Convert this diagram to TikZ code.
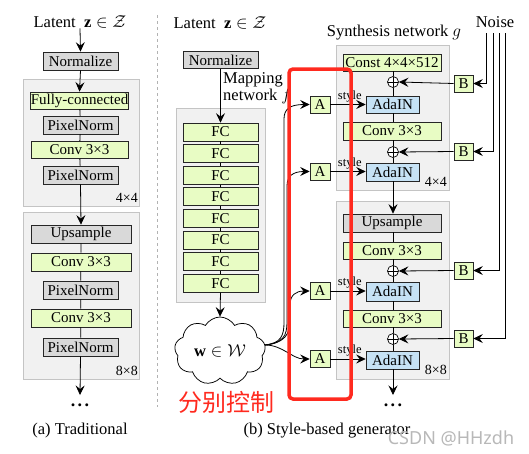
\documentclass[tikz,border=0pt]{standalone}
\usepackage{fontspec}
\setmainfont{Liberation Serif}
\newfontfamily\cjkfont{Noto Sans CJK SC}
\newfontfamily\wmfont{Noto Sans}
\usetikzlibrary{arrows.meta,shapes.symbols}
\definecolor{boxgreen}{HTML}{E8FCC4}
\definecolor{boxgray}{HTML}{D9D9D9}
\definecolor{boxblue}{HTML}{C6E2F5}
\definecolor{panelfill}{HTML}{F1F1F1}
\definecolor{panelline}{HTML}{C4C4C4}
\definecolor{redbox}{HTML}{FF2A1F}
\begin{document}
\begin{tikzpicture}[x=1pt,y=-1pt,
  every node/.style={font=\fontsize{15}{17}\selectfont, inner sep=0pt},
  blk/.style={draw=black!85, line width=0.7pt, rectangle, minimum height=18},
  gbox/.style={blk, fill=boxgray},
  grbox/.style={blk, fill=boxgreen},
  bbox/.style={blk, fill=boxblue},
  panel/.style={fill=panelfill, draw=panelline, line width=0.6pt},
  arr/.style={-{Stealth[length=9.5pt,width=9pt,inset=3.5pt]}, line width=0.8pt},
  ln/.style={line width=0.8pt},
  lbl/.style={font=\fontsize{16.5}{18}\selectfont},
  sizelbl/.style={font=\fontsize{14}{16}\selectfont},
  stylelbl/.style={font=\fontsize{12.5}{14}\selectfont},
  dotsnode/.style={font=\fontsize{18}{20}\selectfont\bfseries},
  plusnode/.style={circle, draw, fill=white, line width=0.7pt, minimum size=11,
    path picture={\draw[line width=0.6pt] (path picture bounding box.north) -- (path picture bounding box.south)
      (path picture bounding box.west) -- (path picture bounding box.east);}}
]
\useasboundingbox (0,0) rectangle (529,453);
\fill[white] (0,0) rectangle (529,453);

% separator
\draw[gray!60, dashed, line width=0.6pt] (157,15) -- (157,407);

% ---------------- (a) Traditional ----------------
\draw[panel] (23,79) rectangle (139,206);
\draw[panel] (23,212) rectangle (139,379);
\node[lbl] (latA) at (80,22) {Latent \ $\mathbf{z}\in\mathcal{Z}$};
\node[gbox, minimum width=75] (normA) at (80.5,61) {Normalize};
\node[grbox, minimum width=97, minimum height=17] (fcA) at (79.5,100.5) {Fully-connected};
\node[gbox, minimum width=75] (pnA1) at (80.5,125) {PixelNorm};
\node[grbox, minimum width=97, minimum height=17] (convA1) at (79.5,150) {Conv 3×3};
\node[gbox, minimum width=75] (pnA2) at (80.5,175) {PixelNorm};
\node[sizelbl, anchor=east] (szA1) at (138,198) {4×4};
\node[gbox, minimum width=100] (upA) at (81,234) {Upsample};
\node[grbox, minimum width=100] (convA2) at (81,262) {Conv 3×3};
\node[gbox, minimum width=75] (pnA3) at (80.5,290) {PixelNorm};
\node[grbox, minimum width=100] (convA3) at (81,318) {Conv 3×3};
\node[gbox, minimum width=75] (pnA4) at (80.5,347) {PixelNorm};
\node[sizelbl, anchor=east] (szA2) at (138,371) {8×8};
\coordinate (endA) at (80,395);
\node[dotsnode] (dotsA) at (80,405) {.\hspace{2.5pt}.\hspace{2.5pt}.};
\node[lbl] (capA) at (80,431) {(a) Traditional};

\draw[arr] (latA.south) -- (normA.north);
\draw[arr] (normA.south) -- (fcA.north);
\draw[ln] (fcA) -- (pnA1) -- (convA1) -- (pnA2);
\draw[arr] (pnA2.south) -- (upA.north);
\draw[ln] (upA) -- (convA2) -- (pnA3) -- (convA3) -- (pnA4);
\draw[arr] (pnA4.south) -- (endA);

% ---------------- (b) Mapping network ----------------
\draw[panel] (176,108) rectangle (265,302);
\node[lbl] (latB) at (220,23) {Latent \ $\mathbf{z}\in\mathcal{Z}$};
\node[gbox, minimum width=75, minimum height=17] (normB) at (220.5,60) {Normalize};
\node[lbl, anchor=north west, align=left] (maptxt) at (223,72) {Mapping\\[-1pt]network $f$};
\foreach \i/\y in {1/132,2/153.6,3/175.2,4/196.8,5/218.4,6/240,7/261.6,8/283.2}{
  \node[grbox, minimum width=75] (fc\i) at (220.5,\y) {FC};
}
\draw[arr] (normB.south) -- (fc1.north);
\draw[ln] (fc1) -- (fc2) -- (fc3) -- (fc4) -- (fc5) -- (fc6) -- (fc7) -- (fc8);
\node[cloud, draw, fill=white, line width=0.75pt, cloud puffs=9, cloud puff arc=120, aspect=1.35,
      minimum width=91, minimum height=68, font=\fontsize{16.5}{18}\selectfont] (w) at (220,351) {$\mathbf{w}\in\mathcal{W}$};
\draw[arr] (fc8.south) -- (w.north);
\coordinate (wE) at (265,345);

% A boxes
\node[grbox, minimum width=20, minimum height=17] (A1) at (320,104.5) {A};
\node[grbox, minimum width=20, minimum height=17] (A2) at (320,171.5) {A};
\node[grbox, minimum width=20, minimum height=17] (A3) at (320,291) {A};
\node[grbox, minimum width=20, minimum height=17] (A4) at (320,359) {A};

\draw[arr] (wE) .. controls (281,343) and (284,336) .. (284,322) -- (284,119) .. controls (284,109) and (290,104.5) .. (A1.west);
\draw[arr] (wE) .. controls (283,343) and (287,336) .. (287,322) -- (287,186) .. controls (287,176) and (293,171.5) .. (A2.west);
\draw[arr] (wE) .. controls (285,343) and (290,334) .. (290,320) -- (290,305) .. controls (290,295) and (296,291) .. (A3.west);
\draw[arr] (wE) .. controls (283,345) and (292,359) .. (A4.west);

% ---------------- (b) Synthesis network ----------------
\node[lbl] (syntitle) at (394,33) {Synthesis network $g$};
\draw[panel] (336,45) rectangle (449,190);
\draw[panel] (336,201) rectangle (449,379);

\node[grbox, minimum width=98, minimum height=17] (const) at (392,62.5) {Const 4×4×512};
\node[plusnode] (p1) at (393,82) {};
\node[bbox, minimum width=53, minimum height=17] (ada1) at (392.5,104.5) {AdaIN};
\node[grbox, minimum width=98] (conv1) at (392,131) {Conv 3×3};
\node[plusnode] (p2) at (393,152) {};
\node[bbox, minimum width=53] (ada2) at (392.5,172) {AdaIN};
\node[sizelbl, anchor=east] (szB1) at (447,182) {4×4};

\node[gbox, minimum width=98] (up) at (392,223) {Upsample};
\node[grbox, minimum width=98, minimum height=17] (conv2) at (392,250.5) {Conv 3×3};
\node[plusnode] (p3) at (393,271) {};
\node[bbox, minimum width=53, minimum height=19] (ada3) at (392.5,291.5) {AdaIN};
\node[grbox, minimum width=98, minimum height=17] (conv3) at (392,318.5) {Conv 3×3};
\node[plusnode] (p4) at (393,339) {};
\node[bbox, minimum width=53] (ada4) at (392.5,360) {AdaIN};
\node[sizelbl, anchor=east] (szB2) at (447,370) {8×8};
\coordinate (endB) at (393,395);
\node[dotsnode] (dotsB) at (393,405) {.\hspace{2.5pt}.\hspace{2.5pt}.};

\draw[ln] (const.south -| p1) -- (p1) -- (ada1.north -| p1);
\draw[ln] (ada1.south -| p1) -- (conv1.north -| p1);
\draw[ln] (conv1.south -| p1) -- (p2) -- (ada2.north -| p2);
\draw[arr] (ada2.south -| p2) -- (up.north -| p2);
\draw[ln] (up.south -| p3) -- (conv2.north -| p3);
\draw[ln] (conv2.south -| p3) -- (p3) -- (ada3.north -| p3);
\draw[ln] (ada3.south -| p3) -- (conv3.north -| p3);
\draw[ln] (conv3.south -| p4) -- (p4) -- (ada4.north -| p4);
\draw[arr] (ada4.south -| p4) -- (endB);

% style arrows
\draw[arr] (A1.east) -- node[stylelbl, above=2pt, pos=0.55] {style} (ada1.west |- A1.east);
\draw[arr] (A2.east) -- node[stylelbl, above=2pt, pos=0.55] {style} (ada2.west |- A2.east);
\draw[arr] (A3.east) -- node[stylelbl, above=2pt, pos=0.55] {style} (ada3.west |- A3.east);
\draw[arr] (A4.east) -- node[stylelbl, above=2pt, pos=0.55] {style} (ada4.west |- A4.east);

% B boxes and noise
\node[grbox, minimum width=19, minimum height=17] (B1) at (463.5,83.5) {B};
\node[grbox, minimum width=19, minimum height=17] (B2) at (463.5,151.5) {B};
\node[grbox, minimum width=19, minimum height=17] (B3) at (463.5,270.5) {B};
\node[grbox, minimum width=19, minimum height=17] (B4) at (463.5,338.5) {B};
\draw[arr] (B1.west) -- (p1.east);
\draw[arr] (B2.west) -- (p2.east);
\draw[arr] (B3.west) -- (p3.east);
\draw[arr] (B4.west) -- (p4.east);

\node[lbl] (noise) at (495,22) {Noise};
\coordinate (n1) at (486,33);
\coordinate (n2) at (493,33);
\coordinate (n3) at (499,33);
\coordinate (n4) at (505,33);
\draw[arr] (n1) |- (B1.east);
\draw[arr] (n2) |- (B2.east);
\draw[arr] (n3) |- (B3.east);
\draw[arr] (n4) |- (B4.east);

\node[lbl] (capB) at (327,431) {(b) Style-based generator};

% red annotation
\draw[redbox, line width=3.5pt, rounded corners=4pt] (289,69) rectangle (351,399);
\node[text=redbox, font=\cjkfont\fontsize{24}{26}\selectfont] (ctrl) at (226,402) {分别控制};

% watermark
\node[text=black!28, font=\wmfont\fontsize{18}{20}\selectfont] (wm) at (451,438) {CSDN @HHzdh};
\end{tikzpicture}
\end{document}
